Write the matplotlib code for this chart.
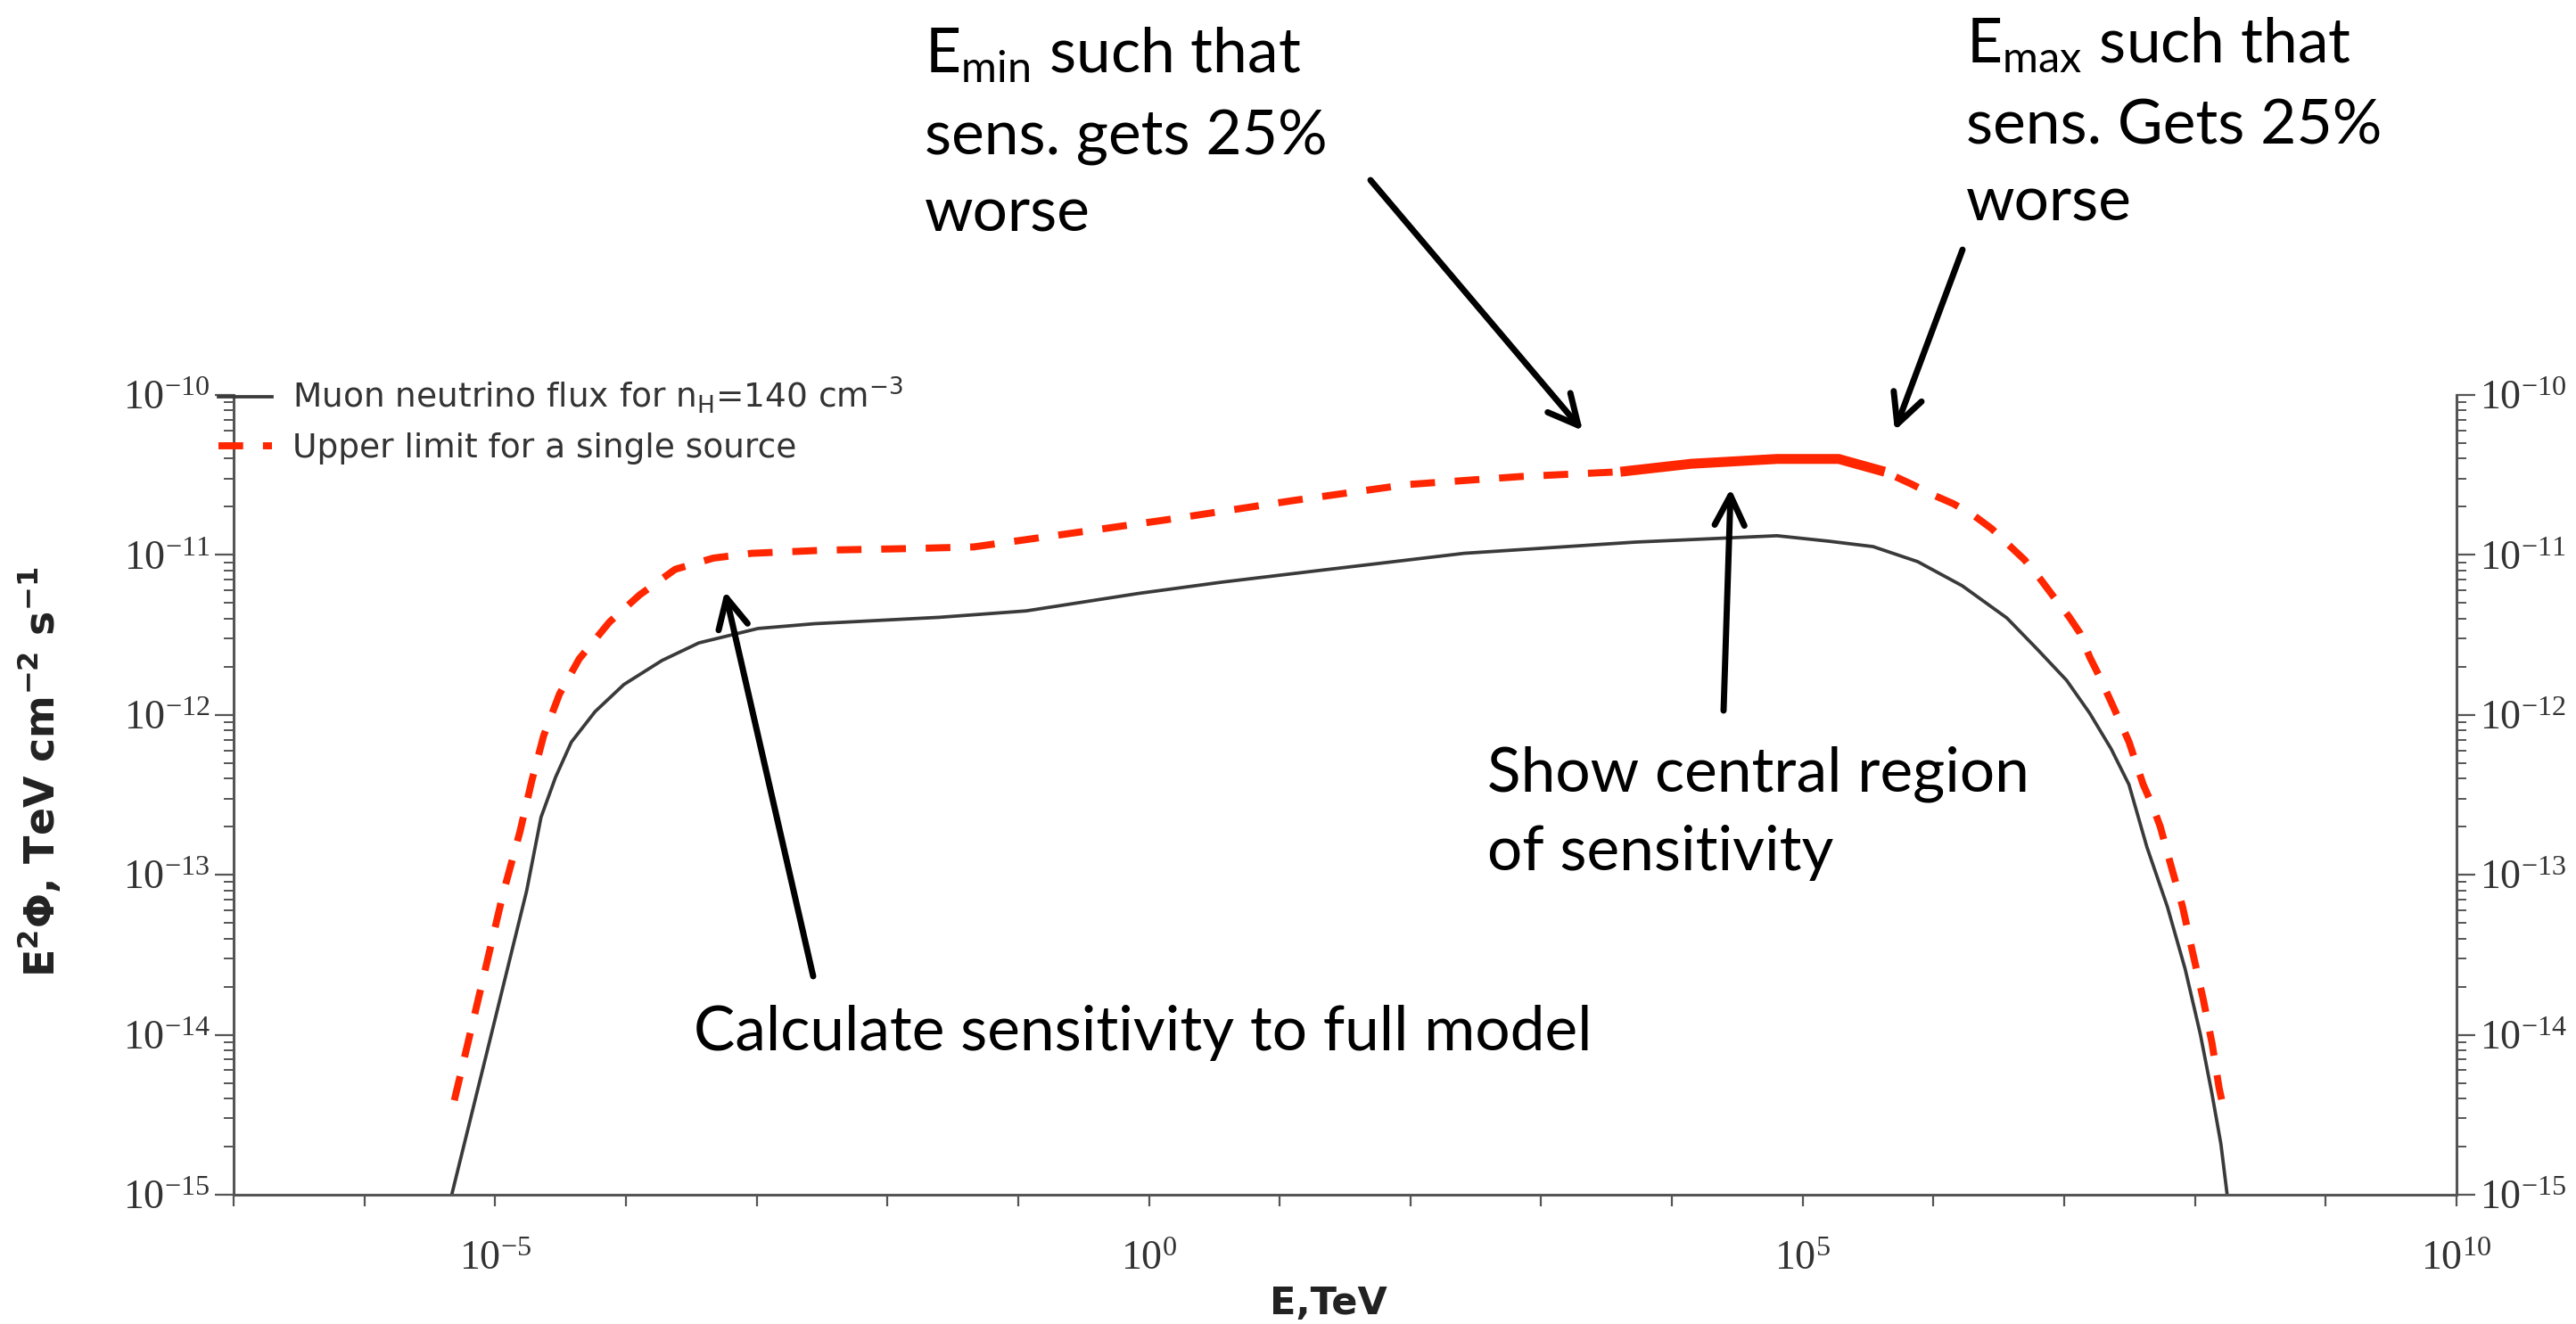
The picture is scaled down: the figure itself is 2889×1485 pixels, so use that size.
import numpy as np
import matplotlib.pyplot as plt
from matplotlib.ticker import FixedLocator, FuncFormatter, NullFormatter

plt.rcParams['mathtext.fontset'] = 'custom'
plt.rcParams['mathtext.rm'] = 'Liberation Serif'

W, H = 2889, 1485

# muon neutrino flux (log10 E [TeV], log10 E^2 Phi)
flux_logE = [-5.332, -5.051, -4.759, -4.649, -4.538, -4.417, -4.236, -4.015,
             -3.724, -3.442, -2.990, -2.557, -1.602, -0.939, -0.546, -0.074,
             0.560, 1.274, 2.410, 3.717, 4.803, 5.197, 5.538, 5.879, 6.220,
             6.561, 6.786, 7.018, 7.195, 7.359, 7.495, 7.632, 7.789, 7.925,
             8.041, 8.130, 8.198, 8.246]
flux_logF = [-15.0, -14.07, -13.10, -12.64, -12.39, -12.17, -11.98, -11.81,
             -11.66, -11.55, -11.46, -11.43, -11.39, -11.35, -11.30, -11.24,
             -11.17, -11.10, -10.99, -10.92, -10.88, -10.914, -10.948, -11.042,
             -11.193, -11.394, -11.583, -11.784, -11.990, -12.213, -12.436,
             -12.826, -13.200, -13.590, -13.997, -14.370, -14.682, -15.0]

# upper limit for a single source
ul_logE = [-5.312, -5.121, -4.940, -4.810, -4.719, -4.629, -4.508, -4.357,
           -4.126, -3.895, -3.623, -3.332, -3.040, -2.467, -1.813, -1.341,
           -0.727, 0.137, 1.103, 1.977, 2.842, 3.606, 4.149, 4.803, 5.275,
           5.627, 5.831, 5.995, 6.152, 6.308, 6.445, 6.581, 6.697, 6.820,
           6.922, 7.038, 7.120, 7.195, 7.263, 7.345, 7.413, 7.495, 7.604,
           7.673, 7.734, 7.809, 7.905, 7.980, 8.062, 8.130, 8.184, 8.232]
ul_logF = [-14.41, -13.75, -13.12, -12.73, -12.41, -12.13, -11.87, -11.65,
           -11.42, -11.25, -11.09, -11.02, -10.99, -10.97, -10.96, -10.95,
           -10.88, -10.78, -10.66, -10.56, -10.51, -10.48, -10.43, -10.40,
           -10.40, -10.48, -10.557, -10.624, -10.680, -10.753, -10.836,
           -10.942, -11.031, -11.154, -11.265, -11.388, -11.488, -11.639,
           -11.750, -11.895, -12.018, -12.168, -12.436, -12.564, -12.698,
           -12.921, -13.200, -13.478, -13.774, -14.052, -14.331, -14.515]

# central sensitivity region (log10 E bounds)
central_logE = [3.60, 5.63]

flux_label = r'Muon neutrino flux for n$_{\mathdefault{H}}$=140 cm$^{\mathdefault{-3}}$'
ul_label = 'Upper limit for a single source'

E_f = 10.0 ** np.array(flux_logE)
F_f = 10.0 ** np.array(flux_logF)
E_u = 10.0 ** np.array(ul_logE)
F_u = 10.0 ** np.array(ul_logF)

red = '#ff2600'
axcol = '#555555'
txtcol = '#333333'

fig = plt.figure(figsize=(W / 100, H / 100), dpi=100)
ax = fig.add_axes([262 / W, 1 - 1340 / H, (2755 - 262) / W, (1340 - 443) / H])

ax.plot(E_f, F_f, color='#3a3a3a', lw=2.7, label=flux_label)
ax.plot(E_u, F_u, color=red, lw=5.7, dashes=(3.5, 2.8), label=ul_label)
sel = (np.array(ul_logE) >= central_logE[0]) & (np.array(ul_logE) <= central_logE[1])
ax.plot(E_u[sel], F_u[sel], color=red, lw=8, solid_capstyle='butt')

ax.set_xscale('log')
ax.set_yscale('log')
ax.set_xlim(1e-7, 1e10)
ax.set_ylim(1e-15, 1e-10)

ax.xaxis.set_major_locator(FixedLocator(10.0 ** np.arange(-7, 11)))
ax.xaxis.set_minor_locator(FixedLocator([]))


def xfmt(v, pos):
    p = int(round(np.log10(v)))
    return r'$\mathdefault{10^{%d}}$' % p if p % 5 == 0 else ''


def yfmt(v, pos):
    return r'$\mathdefault{10^{%d}}$' % int(round(np.log10(v)))


ax.xaxis.set_major_formatter(FuncFormatter(xfmt))
ax.yaxis.set_major_locator(FixedLocator(10.0 ** np.arange(-15, -9)))
ax.yaxis.set_minor_locator(FixedLocator(
    [m * 10.0 ** e for e in range(-15, -10) for m in range(2, 10)]))
ax.yaxis.set_major_formatter(FuncFormatter(yfmt))
ax.yaxis.set_minor_formatter(NullFormatter())

ax.spines['top'].set_visible(False)
for s in ('left', 'right', 'bottom'):
    ax.spines[s].set_color(axcol)
    ax.spines[s].set_linewidth(2.2)

ax.tick_params(axis='x', which='major', direction='out', length=9, width=1.6,
               color=axcol, labelsize=33, labelcolor=txtcol, pad=28,
               labelfontfamily='Liberation Serif')
ax.tick_params(axis='y', which='major', direction='out', length=15, width=1.6,
               color=axcol, labelsize=33, labelcolor=txtcol, pad=4,
               left=True, right=True, labelleft=True, labelright=True,
               labelfontfamily='Liberation Serif')
ax.tick_params(axis='y', which='minor', direction='out', length=8, width=1.4,
               color=axcol, left=True, right=True)

fig.text(45 / W, 1 - 866 / H,
         r'E$^{\mathdefault{2}}$Φ, TeV cm$^{\mathdefault{-2}}$ s$^{\mathdefault{-1}}$',
         rotation=90, ha='center', va='center', fontsize=33, fontweight='bold',
         color='#222222', family='DejaVu Sans')
fig.text(1490 / W, 1 - 1462 / H, 'E,TeV', ha='center', va='center',
         fontsize=31, fontweight='bold', color='#222222', family='DejaVu Sans')

leg = ax.legend(loc='upper left', bbox_to_anchor=(245 / W, 1 - 421 / H),
                bbox_transform=fig.transFigure, frameon=False, fontsize=27,
                handlelength=1.6, handletextpad=0.6, labelspacing=0.5,
                borderpad=0, borderaxespad=0)
for t in leg.get_texts():
    t.set_color(txtcol)
    t.set_family('DejaVu Sans')

# slide annotations
note_font = dict(family='Lato', fontsize=50, color='black', va='baseline')


def put_lines(x, baselines, lines):
    for yb, s in zip(baselines, lines):
        fig.text(x / W, 1 - yb / H, s, **note_font)


put_lines(1037, [82, 173, 260],
          [r'E$_{\mathdefault{min}}$ such that', 'sens. gets 25%', 'worse'])
put_lines(2205, [70, 162, 248],
          [r'E$_{\mathdefault{max}}$ such that', 'sens. Gets 25%', 'worse'])
put_lines(1668, [887, 976], ['Show central region', 'of sensitivity'])
put_lines(778, [1178], ['Calculate sensitivity to full model'])

arrows = [((1537, 202), (1775, 483)),
          ((2201, 280), (2125, 483)),
          ((1933, 797), (1941, 548)),
          ((912, 1095), (813, 663))]
for (x0, y0), (x1, y1) in arrows:
    ax.annotate('', xy=(x1, H - y1), xytext=(x0, H - y0),
                xycoords='figure pixels', textcoords='figure pixels',
                arrowprops=dict(arrowstyle='->,head_length=1.2,head_width=0.6',
                                lw=5, color='black', shrinkA=0, shrinkB=0,
                                mutation_scale=20))

fig.savefig('out.png', dpi=100)
